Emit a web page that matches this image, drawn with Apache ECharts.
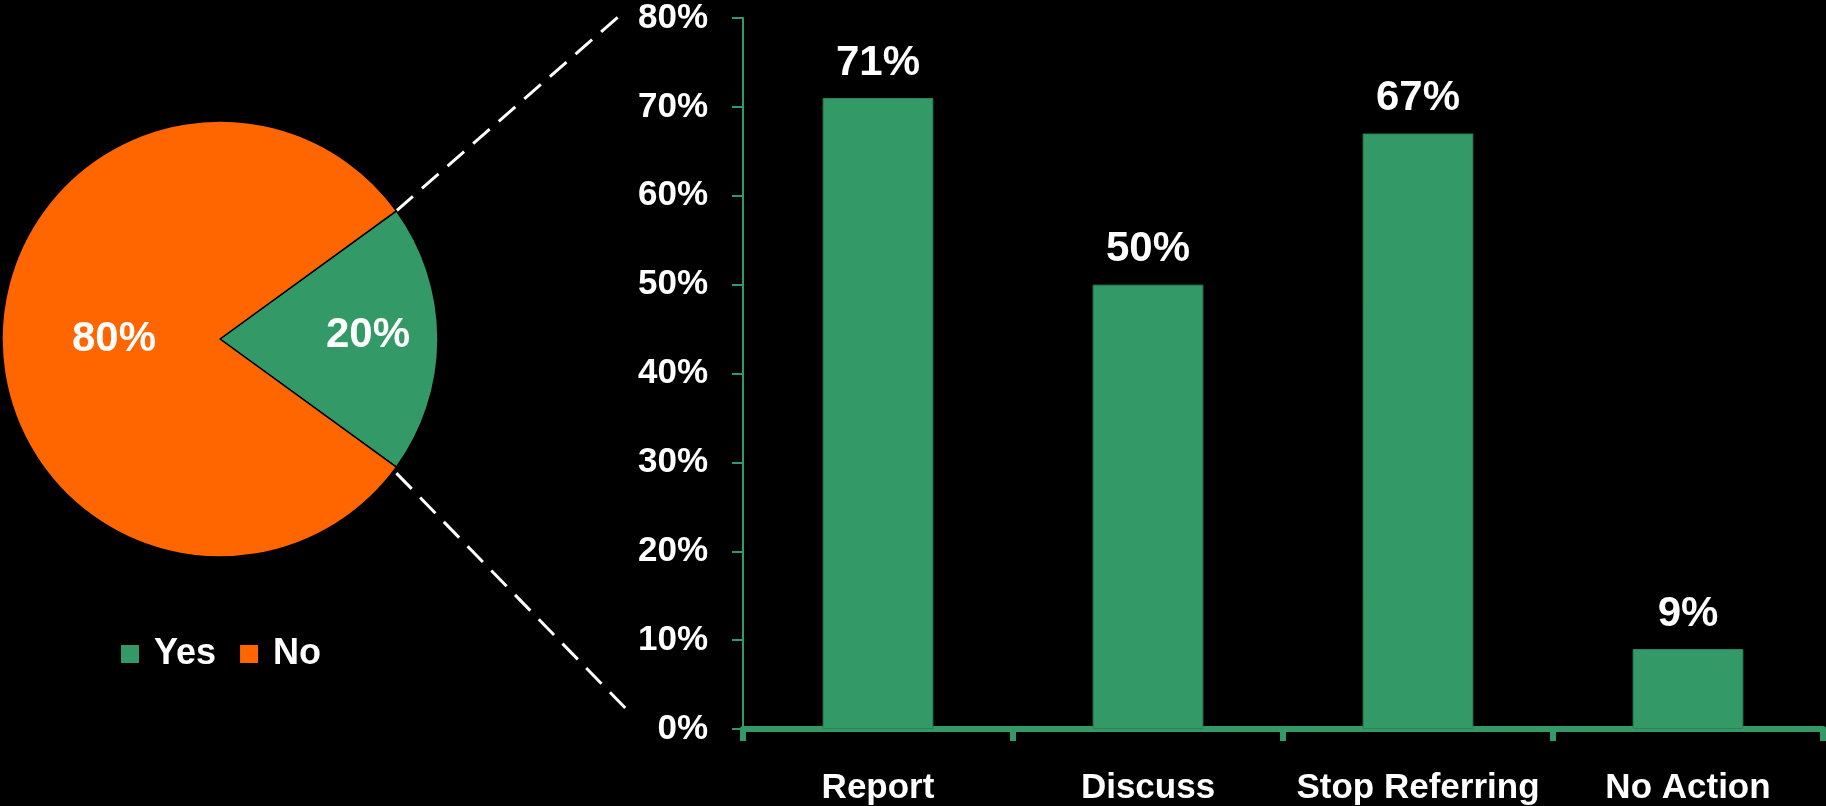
<!DOCTYPE html>
<html>
<head>
<meta charset="utf-8">
<title>Responses</title>
<script src="https://cdn.jsdelivr.net/npm/echarts@6/dist/echarts.min.js"></script>
<style>
  html, body { margin: 0; padding: 0; background: #000; }
  #chart { width: 1826px; height: 806px; }
</style>
</head>
<body>
<div id="chart"></div>
<script>
// Share of respondents who answered Yes / No
const pieNames = ['Yes', 'No'];
const pieValues = [20, 80];

// Actions taken by those who answered Yes (percent)
const categories = ['Report', 'Discuss', 'Stop Referring', 'No Action'];
const barValues = [71, 50, 67, 9];

// Value axis range and step (percent)
const yMin = 0;
const yMax = 80;
const yStep = 10;

const GREEN = '#339966';
const ORANGE = '#FF6600';
const FONT = '"Liberation Sans", Arial, sans-serif';

// Pie geometry
const pieCenter = [220, 339];
const pieRadius = 218;
const yesHalfAngle = pieValues[0] / (pieValues[0] + pieValues[1]) * 180; // degrees

const chart = echarts.init(document.getElementById('chart'), null, { renderer: 'canvas' });

const option = {
  backgroundColor: '#000',
  animation: false,
  textStyle: { fontFamily: FONT, fontWeight: 'bold', color: '#fff' },
  legend: {
    data: pieNames,
    left: 119,
    top: 636,
    padding: 0,
    itemWidth: 20,
    itemHeight: 20,
    itemGap: 22,
    icon: 'rect',
    textStyle: { color: '#fff', fontSize: 36, fontWeight: 'bold', fontFamily: FONT, padding: [0, 0, 0, 9] }
  },
  grid: { left: 743, right: 3, top: 18, bottom: 75, containLabel: false },
  xAxis: {
    type: 'category',
    data: categories,
    axisLine: { lineStyle: { color: GREEN, width: 6 } },
    axisTick: { show: true, interval: 0, length: 12, lineStyle: { color: GREEN, width: 6 } },
    axisLabel: { interval: 0, color: '#fff', fontSize: 35, fontWeight: 'bold', fontFamily: FONT, margin: 42 },
    splitLine: { show: false }
  },
  yAxis: {
    type: 'value',
    min: yMin,
    max: yMax,
    interval: yStep,
    axisLine: { show: true, lineStyle: { color: GREEN, width: 2 } },
    axisTick: { show: true, length: 11, lineStyle: { color: GREEN, width: 2 } },
    axisLabel: { color: '#fff', fontSize: 35, fontWeight: 'bold', fontFamily: FONT, margin: 35, formatter: '{value}%' },
    splitLine: { show: false }
  },
  series: [
    {
      type: 'pie',
      center: pieCenter,
      radius: pieRadius,
      startAngle: yesHalfAngle,
      clockwise: true,
      silent: true,
      data: pieNames.map((n, i) => ({
        name: n,
        value: pieValues[i],
        itemStyle: { color: i === 0 ? GREEN : ORANGE }
      })),
      itemStyle: { borderColor: '#000', borderWidth: 1.5 },
      label: {
        show: true,
        position: 'inside',
        formatter: '{c}%',
        color: '#fff',
        fontSize: 42,
        fontWeight: 'bold',
        fontFamily: FONT
      },
      labelLine: { show: false },
      labelLayout: function (params) {
        return params.dataIndex === 0 ? { dx: 18, dy: -2 } : { dx: 3, dy: 0 };
      }
    },
    {
      type: 'bar',
      data: barValues,
      barWidth: '41%',
      itemStyle: { color: GREEN, borderColor: '#2b8458', borderWidth: 1 },
      label: {
        show: true,
        position: 'top',
        distance: 14,
        formatter: '{c}%',
        color: '#fff',
        fontSize: 42,
        fontWeight: 'bold',
        fontFamily: FONT
      }
    }
  ]
};

chart.setOption(option);

// Dashed connectors from the Yes slice to the bar chart's value axis
function drawConnectors() {
  const rad = yesHalfAngle * Math.PI / 180;
  const topVertex = [pieCenter[0] + pieRadius * Math.cos(rad), pieCenter[1] - pieRadius * Math.sin(rad)];
  const botVertex = [pieCenter[0] + pieRadius * Math.cos(rad), pieCenter[1] + pieRadius * Math.sin(rad)];
  const topAxis = chart.convertToPixel({ gridIndex: 0 }, [categories[0], yMax]);
  const botAxis = chart.convertToPixel({ gridIndex: 0 }, [categories[0], yMin]);
  const axisX = chart.getModel().getComponent('grid').coordinateSystem.getRect().x;
  const dash = { stroke: '#fff', lineWidth: 3, lineDash: [22, 12] };
  chart.setOption({
    graphic: [
      {
        type: 'line', silent: true,
        shape: { x1: topVertex[0], y1: topVertex[1], x2: axisX - 125, y2: topAxis[1] - 1 },
        style: dash
      },
      {
        type: 'line', silent: true,
        shape: { x1: botVertex[0], y1: botVertex[1] + 6, x2: axisX - 110, y2: botAxis[1] - 13 },
        style: dash
      }
    ]
  });
}
drawConnectors();
</script>
</body>
</html>
